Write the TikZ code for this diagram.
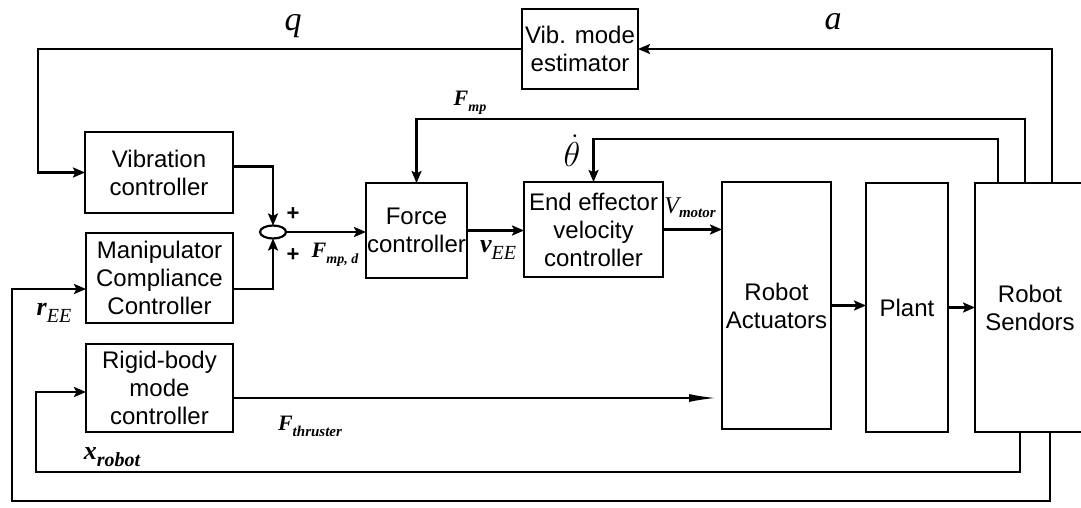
\documentclass[tikz,border=0pt]{standalone}
\usepackage{fontspec}
\setmainfont{Liberation Sans}
\newfontfamily\tms{Liberation Serif}
\usetikzlibrary{arrows.meta,shapes.geometric,calc}
\begin{document}
\begin{tikzpicture}[x=0.5pt,y=-0.5pt,
  line width=1.1pt,
  blk/.style={draw,rectangle,inner sep=0pt,outer sep=0pt,align=center,font=\fontsize{12}{14}\selectfont},
  arr/.style={-{Stealth[length=6pt,width=5pt,inset=1.2pt]}},
  thin arr/.style={-{Latex[length=14pt,width=4pt]}},
  lbl/.style={inner sep=0pt,outer sep=0pt}
]
\useasboundingbox (0,0) rectangle (1081,508);
% blocks
\node[blk,minimum width=74pt,minimum height=40.5pt] (vib) at (159,172.5) {Vibration\\controller};
\node[blk,minimum width=73.5pt,minimum height=45pt] (man) at (159.5,278) {Manipulator\\Compliance\\Controller};
\node[blk,minimum width=73.5pt,minimum height=44pt] (rig) at (159.5,388) {Rigid-body\\mode\\controller};
\node[blk,minimum width=58pt,minimum height=40pt] (vme) at (580,49) {Vib. mode\\estimator};
\node[blk,minimum width=50.5pt,minimum height=47.5pt] (force) at (416.5,230.5) {Force\\controller};
\node[blk,minimum width=69.5pt,minimum height=47.5pt] (eev) at (593.5,229.5) {End effector\\velocity\\controller};
\node[blk,minimum width=54.5pt,minimum height=123.5pt] (act) at (776.5,305.5) {Robot\\Actuators};
\node[blk,minimum width=41pt,minimum height=124.5pt] (plant) at (907,307.5) {Plant};
\node[blk,minimum width=55pt,minimum height=124.5pt] (sens) at (1030,307.5) {Robot\\Sendors};
\node[draw,ellipse,inner sep=0pt,outer sep=0pt,minimum width=13pt,minimum height=6.5pt] (sum) at (273,232) {};
% lane corners
\coordinate (qX) at (38,49);
\coordinate (aX) at (1052,49);
\coordinate (fX) at (1025,119);
\coordinate (tX) at (998,139);
\coordinate (xX) at (1020,472);
\coordinate (xL) at (36,472);
\coordinate (rX) at (1050,501);
\coordinate (rL) at (12,501);
% connectors
\draw[arr] (vme.west) -- (qX) |- (vib.west);
\draw[arr] (sens.north -| aX) -- (aX) -- (vme.east);
\draw[arr] (sens.north -| fX) -- (fX) -| (force.north);
\draw[arr] (sens.north -| tX) -- (tX) -| (eev.north);
\draw[arr] ([yshift=3pt]vib.east) -| (sum.north);
\draw[arr] ([yshift=-5.5pt]man.east) -| (sum.south);
\draw[arr] (sum.east) -- (sum.east -| force.west);
\draw[arr] (force.east) -- (force.east -| eev.west);
\draw[arr] (eev.east) -- (eev.east -| act.west);
\draw[arr] (act.east) -- (act.east -| plant.west);
\draw[arr] (plant.east) -- (plant.east -| sens.west);
\draw[thin arr,shorten >=2.5pt] ([yshift=-5pt]rig.east) -- ([yshift=-5pt]rig.east -| act.west);
\draw[arr] (sens.south -| xX) -- (xX) -- (xL) |- ([yshift=-2pt]rig.west);
\draw[arr] (sens.south -| rX) -- (rX) -- (rL) |- ([yshift=-5.5pt]man.west);
% labels
\node[lbl] (lq) at (293,26) {\tms\itshape\fontsize{17}{17}\selectfont q};
\node[lbl] (la) at (833,22) {\tms\itshape\fontsize{17}{17}\selectfont a};
\node[lbl] (lfmp) at (470,103) {\tms\bfseries\itshape\fontsize{11}{11}\selectfont F\raisebox{-3pt}{\fontsize{7}{7}\selectfont mp}};
\node[lbl] (lth) at (572,151) {\fontsize{16}{16}\selectfont$\dot{\theta}$};
\node[lbl] (lvm) at (690,208) {\tms\itshape\fontsize{12}{12}\selectfont V\raisebox{-2pt}{\bfseries\fontsize{7.5}{7.5}\selectfont motor}};
\node[lbl] (lvee) at (498,250) {\tms\fontsize{13}{13}\selectfont{\bfseries\itshape v}\raisebox{-3.5pt}{\itshape\fontsize{10}{10}\selectfont EE}};
\node[lbl] (lfmpd) at (335,255) {\tms\bfseries\itshape\fontsize{11}{11}\selectfont F\raisebox{-3pt}{\fontsize{7}{7}\selectfont mp, d}};
\node[lbl] (lp1) at (293,214) {\bfseries\fontsize{11}{11}\selectfont +};
\node[lbl] (lp2) at (293,255) {\bfseries\fontsize{11}{11}\selectfont +};
\node[lbl] (lree) at (54,313) {\tms\fontsize{13}{13}\selectfont{\bfseries\itshape r}\raisebox{-3.5pt}{\itshape\fontsize{10}{10}\selectfont EE}};
\node[lbl] (lfth) at (310,426) {\tms\bfseries\itshape\fontsize{11}{11}\selectfont F\raisebox{-3pt}{\fontsize{7.5}{7.5}\selectfont thruster}};
\node[lbl] (lxr) at (112,457) {\tms\bfseries\itshape\fontsize{13}{13}\selectfont x\raisebox{-3.5pt}{\fontsize{10}{10}\selectfont robot}};
\end{tikzpicture}
\end{document}
